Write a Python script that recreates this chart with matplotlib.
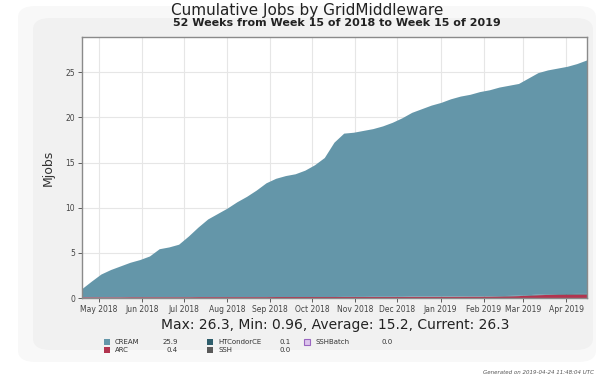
import matplotlib
matplotlib.use("Agg")
import matplotlib.pyplot as plt
import matplotlib.dates as mdates
from matplotlib.patches import FancyBboxPatch, Rectangle
import pandas as pd

# Weekly cumulative job counts (millions), week 15 of 2018 to week 15 of 2019
weeks = pd.date_range("2018-04-19", "2019-04-16", periods=53)

arc = [0.08, 0.08, 0.08, 0.08, 0.08, 0.09, 0.09, 0.09, 0.09, 0.09,
       0.09, 0.09, 0.10, 0.10, 0.10, 0.10, 0.10, 0.10, 0.10, 0.10,
       0.11, 0.11, 0.11, 0.11, 0.11, 0.11, 0.11, 0.12, 0.12, 0.12,
       0.12, 0.12, 0.12, 0.12, 0.13, 0.13, 0.13, 0.13, 0.13, 0.14,
       0.14, 0.14, 0.15, 0.16, 0.18, 0.21, 0.26, 0.31, 0.34, 0.36,
       0.37, 0.38, 0.38]
htcondorce = [0.00, 0.00, 0.00, 0.00, 0.00, 0.00, 0.00, 0.00, 0.00, 0.00,
              0.00, 0.00, 0.00, 0.00, 0.00, 0.00, 0.00, 0.00, 0.00, 0.00,
              0.00, 0.00, 0.00, 0.00, 0.00, 0.00, 0.00, 0.00, 0.00, 0.00,
              0.01, 0.01, 0.01, 0.01, 0.02, 0.02, 0.02, 0.03, 0.03, 0.03,
              0.04, 0.04, 0.04, 0.05, 0.05, 0.05, 0.06, 0.06, 0.06, 0.07,
              0.07, 0.07, 0.07]
ssh = [0.0] * 53
sshbatch = [0.0] * 53
cream = [0.88, 1.72, 2.52, 3.02, 3.42, 3.81, 4.11, 4.51, 5.31, 5.51,
         5.81, 6.71, 7.70, 8.60, 9.20, 9.80, 10.50, 11.10, 11.80, 12.60,
         13.09, 13.39, 13.59, 13.99, 14.59, 15.39, 17.09, 18.08, 18.18, 18.38,
         18.57, 18.87, 19.27, 19.77, 20.35, 20.75, 21.15, 21.44, 21.84, 22.13,
         22.32, 22.62, 22.81, 23.09, 23.27, 23.44, 23.98, 24.53, 24.80, 24.97,
         25.16, 25.45, 25.85]

series_names = ["CREAM", "ARC", "HTCondorCE", "SSH", "SSHBatch"]
current = [25.9, 0.4, 0.1, 0.0, 0.0]
colors = {"CREAM": "#6496a9", "ARC": "#b2344f", "HTCondorCE": "#2e5d6b",
          "SSH": "#5a5a5a", "SSHBatch": "#dcc4ec"}

stats_text = "Max: 26.3, Min: 0.96, Average: 15.2, Current: 26.3"
month_ticks = pd.date_range("2018-05-01", "2019-04-01", freq="MS")

W, H = 596, 384
fig = plt.figure(figsize=(W / 100, H / 100), dpi=100)
fig.patch.set_facecolor("white")

# layered light panels behind the chart
outer = FancyBboxPatch((18 / W, 1 - 362 / H), 578 / W, 356 / H,
                       boxstyle="round,pad=0,rounding_size=0.03",
                       transform=fig.transFigure, facecolor="#f8f8f8",
                       edgecolor="none", zorder=-10)
inner = FancyBboxPatch((33 / W, 1 - 350 / H), 560 / W, 332 / H,
                       boxstyle="round,pad=0,rounding_size=0.03",
                       transform=fig.transFigure, facecolor="#f1f1f1",
                       edgecolor="none", zorder=-9)
fig.patches.extend([outer, inner])

ax = fig.add_axes([82 / W, 1 - 298 / H, 505 / W, 261 / H])
ax.set_zorder(2)
ax.set_facecolor("white")

ax.stackplot(weeks, arc, htcondorce, ssh, sshbatch, cream,
             colors=[colors["ARC"], colors["HTCondorCE"], colors["SSH"],
                     colors["SSHBatch"], colors["CREAM"]],
             linewidth=0, zorder=2)

ax.set_xlim(weeks[0], weeks[-1])
ax.set_ylim(0, 28.9)
ax.set_yticks([0, 5, 10, 15, 20, 25])
ax.set_xticks(month_ticks)
ax.xaxis.set_major_formatter(mdates.DateFormatter("%b %Y"))
ax.grid(True, color="#e6e6e6", linewidth=0.8, zorder=1)
ax.set_axisbelow(True)
for s in ax.spines.values():
    s.set_color("#8a8a8a")
    s.set_linewidth(1.0)
ax.tick_params(axis="both", labelsize=5.5, colors="#444444", length=3,
               width=0.6, pad=2)
ax.set_ylabel("Mjobs", fontsize=9, color="#333333", labelpad=8)

fig.text(307 / W, 1 - 11 / H, "Cumulative Jobs by GridMiddleware",
         ha="center", va="center", fontsize=11, color="#222222", zorder=5)
fig.text(337 / W, 1 - 23 / H, "52 Weeks from Week 15 of 2018 to Week 15 of 2019",
         ha="center", va="center", fontsize=8, fontweight="bold", color="#222222",
         zorder=5)
fig.text(335 / W, 1 - 325 / H, stats_text, ha="center", va="center",
         fontsize=10, color="#222222", zorder=5)

# legend table: name, current value
cols_x = [(107, 115, 178), (210, 218, 291), (307, 315, 393)]
rows_y = [342, 350]
layout = [["CREAM", "HTCondorCE", "SSHBatch"], ["ARC", "SSH"]]
for r, names in enumerate(layout):
    for c, name in enumerate(names):
        sx, tx, vx = cols_x[c]
        y = rows_y[r]
        val = current[series_names.index(name)]
        edge = "#9a66c0" if name == "SSHBatch" else "none"
        fig.patches.append(Rectangle(((sx - 3) / W, 1 - (y + 3) / H), 6 / W, 6 / H,
                                     transform=fig.transFigure,
                                     facecolor=colors[name], edgecolor=edge,
                                     linewidth=0.8, zorder=3))
        fig.text(tx / W, 1 - y / H, name, ha="left", va="center",
                 fontsize=5, color="#333333", zorder=5)
        fig.text(vx / W, 1 - y / H, f"{val:.1f}", ha="right", va="center",
                 fontsize=5, color="#333333", zorder=5)

fig.text(594 / W, 1 - 372 / H, "Generated on 2019-04-24 11:48:04 UTC",
         ha="right", va="center", fontsize=4, style="italic", color="#555555",
         zorder=5)

fig.savefig("out.png", dpi=100, facecolor="white")
